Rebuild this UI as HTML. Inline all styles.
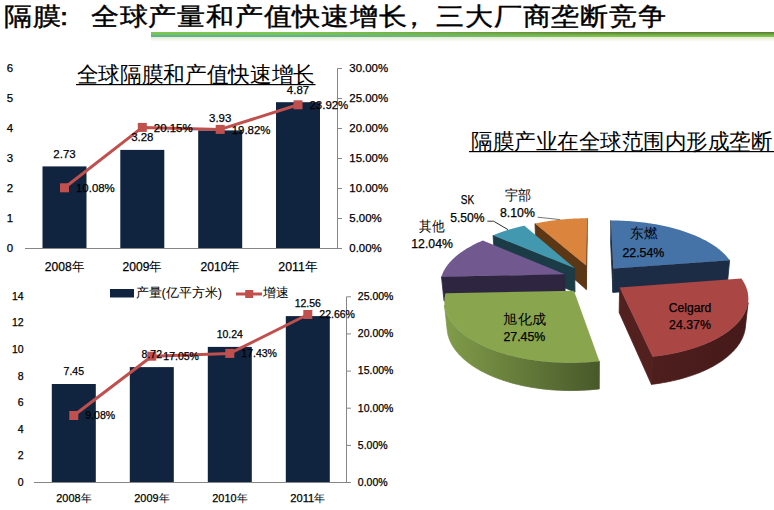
<!DOCTYPE html>
<html><head><meta charset="utf-8"><style>
html,body{margin:0;padding:0;background:#fff;width:774px;height:510px;overflow:hidden}
svg{display:block;font-family:"Liberation Sans",sans-serif}
.d{stroke:#000;stroke-width:0.25px}
</style></head><body>
<svg width="774" height="510" viewBox="0 0 774 510">
<defs>
<linearGradient id="gA" x1="0" y1="0" x2="0" y2="1"><stop offset="0" stop-color="#80c84c"/><stop offset="0.4" stop-color="#7cc35c"/><stop offset="1" stop-color="#4caea6"/></linearGradient>
<linearGradient id="gB" x1="0" y1="0" x2="0" y2="1"><stop offset="0" stop-color="#55782f"/><stop offset="0.6" stop-color="#78b244"/><stop offset="1" stop-color="#88ca55"/></linearGradient>
<linearGradient id="gM" gradientUnits="userSpaceOnUse" x1="300" y1="0" x2="620" y2="0"><stop offset="0" stop-color="#fff" stop-opacity="0"/><stop offset="1" stop-color="#fff" stop-opacity="1"/></linearGradient>
<mask id="mB"><rect x="0" y="0" width="774" height="60" fill="url(#gM)"/></mask>
<linearGradient id="gS" x1="0" y1="0" x2="0" y2="1"><stop offset="0" stop-color="#e6ead2"/><stop offset="1" stop-color="#ffffff"/></linearGradient>
</defs>
<rect x="151" y="37" width="623" height="5" fill="url(#gS)"/>
<rect x="151" y="32" width="623" height="5" fill="url(#gA)"/>
<rect x="151" y="32" width="623" height="5" fill="url(#gB)" mask="url(#mB)"/>
<rect x="42.5" y="166.4" width="44" height="82.1" fill="#11243f"/>
<rect x="120.3" y="149.9" width="44" height="98.6" fill="#11243f"/>
<rect x="198.2" y="130.4" width="44" height="118.1" fill="#11243f"/>
<rect x="276.0" y="102.2" width="44" height="146.3" fill="#11243f"/>
<path d="M25,248.5H342.0M337.5,68.5V248.5" stroke="#868686" stroke-width="1" fill="none"/>
<path d="M337.5,248.5H342.0M337.5,218.5H342.0M337.5,188.5H342.0M337.5,158.5H342.0M337.5,128.5H342.0M337.5,98.5H342.0M337.5,68.5H342.0" stroke="#868686" stroke-width="1"/>
<polyline points="64.5,187.8 142.3,127.4 220.2,129.4 298.0,104.8" fill="none" stroke="#c0504d" stroke-width="3" stroke-linejoin="round"/>
<rect x="60.0" y="183.3" width="9" height="9" fill="#c0504d"/>
<rect x="137.8" y="122.9" width="9" height="9" fill="#c0504d"/>
<rect x="215.7" y="124.9" width="9" height="9" fill="#c0504d"/>
<rect x="293.5" y="100.3" width="9" height="9" fill="#c0504d"/>
<rect x="51.8" y="384.0" width="44" height="98.5" fill="#11243f"/>
<rect x="129.8" y="367.1" width="44" height="115.4" fill="#11243f"/>
<rect x="207.8" y="346.9" width="44" height="135.6" fill="#11243f"/>
<rect x="285.8" y="316.1" width="44" height="166.4" fill="#11243f"/>
<path d="M34,482.5H351.0M346.5,296.8V482.5" stroke="#868686" stroke-width="1" fill="none"/>
<path d="M346.5,482.5H351.0M346.5,445.4H351.0M346.5,408.2H351.0M346.5,371.1H351.0M346.5,333.9H351.0M346.5,296.8H351.0" stroke="#868686" stroke-width="1"/>
<polyline points="73.8,415.5 151.8,356.2 229.8,353.4 307.8,314.5" fill="none" stroke="#c0504d" stroke-width="3" stroke-linejoin="round"/>
<rect x="69.3" y="411.0" width="9" height="9" fill="#c0504d"/>
<rect x="147.3" y="351.7" width="9" height="9" fill="#c0504d"/>
<rect x="225.3" y="348.9" width="9" height="9" fill="#c0504d"/>
<rect x="303.3" y="310.0" width="9" height="9" fill="#c0504d"/>
<rect x="76" y="84" width="239.5" height="1.2" fill="#000"/>
<rect x="469" y="151" width="305" height="1.2" fill="#000"/>
<rect x="110" y="289" width="24" height="8.5" fill="#11243f"/>
<path d="M236,294H262" stroke="#c0504d" stroke-width="3"/><rect x="245.2" y="290" width="8" height="8" fill="#c0504d"/>
<g><path d="M586.15,265.58L534.97,223.62L535.84,245.55L586.28,289.46Z" fill="#5C3716" stroke="#5C3716" stroke-width="0.8" stroke-linejoin="round"/>
<path d="M586.15,265.58L587.08,218.28L587.18,239.95L586.28,289.46Z" fill="#5C3716" stroke="#5C3716" stroke-width="0.8" stroke-linejoin="round"/>
<path d="M586.15,265.58L534.97,223.62L535.81,223.44L536.65,223.26L537.49,223.09L538.33,222.92L539.18,222.76L540.02,222.59L540.87,222.43L541.73,222.27L542.58,222.12L543.44,221.97L544.30,221.82L545.16,221.67L546.02,221.53L546.88,221.39L547.75,221.26L548.62,221.12L549.49,220.99L550.36,220.87L551.24,220.74L552.11,220.62L552.99,220.50L553.87,220.39L554.75,220.27L555.63,220.16L556.51,220.06L557.39,219.96L558.28,219.86L559.17,219.76L560.06,219.66L560.95,219.57L561.84,219.49L562.73,219.40L563.62,219.32L564.51,219.24L565.41,219.17L566.31,219.09L567.20,219.02L568.10,218.96L569.00,218.89L569.90,218.83L570.80,218.78L571.70,218.72L572.60,218.67L573.50,218.62L574.41,218.58L575.31,218.54L576.21,218.50L577.12,218.46L578.02,218.43L578.93,218.40L579.83,218.38L580.74,218.35L581.64,218.33L582.55,218.32L583.46,218.30L584.36,218.29L585.27,218.28L586.17,218.28L587.08,218.28Z" fill="#DB843D"/>
<path d="M574.70,268.18L493.05,235.33L494.59,257.82L575.01,292.18Z" fill="#1B3B47" stroke="#1B3B47" stroke-width="0.8" stroke-linejoin="round"/>
<path d="M574.70,268.18L493.05,235.33L493.54,235.13L494.02,234.93L494.51,234.73L495.00,234.53L495.49,234.33L495.98,234.14L496.48,233.94L496.97,233.75L497.47,233.56L497.97,233.37L498.47,233.18L498.98,232.99L499.48,232.81L499.99,232.62L500.50,232.44L501.01,232.26L501.53,232.07L502.04,231.89L502.56,231.72L503.08,231.54L503.60,231.36L504.12,231.19L504.64,231.02L505.17,230.84L505.69,230.67L506.22,230.50L506.75,230.34L507.28,230.17L507.81,230.00L508.35,229.84L508.89,229.68L509.42,229.52L509.96,229.36L510.50,229.20L511.04,229.04L511.59,228.89L512.13,228.73L512.68,228.58L513.23,228.43L513.78,228.28L514.33,228.13L514.88,227.98L515.43,227.83L515.99,227.69L516.55,227.54L517.10,227.40L517.66,227.26L518.22,227.12L518.78,226.98L519.35,226.85L519.91,226.71L520.48,226.58L521.04,226.44L521.61,226.31L522.18,226.18L522.75,226.06L523.32,225.93L523.89,225.80L524.46,225.68Z" fill="#4198AF"/>
<path d="M613.31,268.41L610.88,220.45L610.63,242.23L612.98,292.42Z" fill="#1C2C45" stroke="#1C2C45" stroke-width="0.8" stroke-linejoin="round"/>
<path d="M613.31,268.41L729.60,260.16L727.39,283.80L612.98,292.42Z" fill="#1C2C45" stroke="#1C2C45" stroke-width="0.8" stroke-linejoin="round"/>
<path d="M613.31,268.41L610.88,220.45L613.42,220.46L615.96,220.50L618.49,220.56L621.03,220.64L623.56,220.75L626.10,220.89L628.62,221.04L631.14,221.22L633.66,221.43L636.17,221.66L638.67,221.91L641.16,222.19L643.64,222.49L646.11,222.82L648.57,223.17L651.02,223.54L653.45,223.94L655.86,224.36L658.27,224.80L660.65,225.27L663.02,225.76L665.37,226.27L667.70,226.81L670.01,227.37L672.29,227.95L674.56,228.56L676.80,229.19L679.01,229.84L681.21,230.52L683.37,231.21L685.50,231.93L687.61,232.67L689.69,233.44L691.73,234.22L693.75,235.03L695.73,235.86L697.68,236.71L699.59,237.58L701.46,238.47L703.30,239.38L705.10,240.31L706.86,241.26L708.58,242.23L710.25,243.22L711.89,244.23L713.48,245.26L715.02,246.30L716.52,247.37L717.97,248.45L719.37,249.55L720.72,250.67L722.02,251.80L723.27,252.95L724.46,254.12L725.60,255.30L726.69,256.49L727.71,257.70L728.69,258.93L729.60,260.16Z" fill="#4572A7"/>
<path d="M564.80,274.35L441.48,276.64L444.06,301.00L565.29,298.62Z" fill="#2E2540" stroke="#2E2540" stroke-width="0.8" stroke-linejoin="round"/>
<path d="M564.80,274.35L441.48,276.64L441.71,275.91L441.96,275.18L442.22,274.45L442.51,273.73L442.81,273.01L443.14,272.29L443.48,271.58L443.84,270.87L444.22,270.16L444.62,269.46L445.03,268.76L445.46,268.06L445.91,267.36L446.38,266.67L446.87,265.99L447.37,265.30L447.89,264.62L448.43,263.95L448.98,263.28L449.55,262.61L450.14,261.95L450.74,261.29L451.36,260.63L451.99,259.98L452.64,259.34L453.31,258.70L453.99,258.06L454.69,257.43L455.40,256.80L456.12,256.18L456.86,255.56L457.62,254.95L458.39,254.34L459.17,253.74L459.97,253.14L460.78,252.55L461.61,251.97L462.44,251.39L463.29,250.81L464.16,250.24L465.04,249.67L465.92,249.11L466.83,248.56L467.74,248.01L468.67,247.47L469.61,246.93L470.56,246.40L471.52,245.88L472.49,245.36L473.48,244.84L474.47,244.34L475.48,243.83L476.50,243.34L477.53,242.85L478.57,242.37L479.61,241.89L480.67,241.42L481.74,240.95L482.82,240.49Z" fill="#71588F"/>
<path d="M619.61,287.55L652.63,356.77L651.43,384.35L619.16,312.39Z" fill="#52201F" stroke="#52201F" stroke-width="0.8" stroke-linejoin="round"/>
<linearGradient id="wg1" gradientUnits="userSpaceOnUse" x1="652.6" y1="0" x2="748.1" y2="0"><stop offset="0" stop-color="#4e1e1d"/><stop offset="1" stop-color="#451a19"/></linearGradient>
<path d="M748.07,302.47L747.95,303.27L747.81,304.07L747.65,304.88L747.47,305.68L747.26,306.48L747.03,307.29L746.78,308.09L746.51,308.89L746.21,309.70L745.89,310.50L745.55,311.30L745.18,312.10L744.79,312.89L744.38,313.69L743.95,314.49L743.49,315.28L743.01,316.07L742.50,316.86L741.97,317.65L741.42,318.43L740.85,319.21L740.25,319.99L739.63,320.77L738.98,321.54L738.31,322.31L737.62,323.08L736.91,323.84L736.17,324.60L735.41,325.35L734.62,326.10L733.81,326.85L732.98,327.59L732.13,328.33L731.25,329.06L730.35,329.79L729.43,330.51L728.48,331.22L727.51,331.94L726.52,332.64L725.51,333.34L724.47,334.03L723.41,334.72L722.33,335.40L721.23,336.07L720.11,336.74L718.96,337.40L717.80,338.05L716.61,338.69L715.40,339.33L714.17,339.96L712.92,340.58L711.64,341.19L710.35,341.80L709.04,342.40L707.71,342.98L706.36,343.56L704.98,344.13L703.59,344.69L702.18,345.25L700.76,345.79L699.31,346.32L697.85,346.84L696.36,347.36L694.86,347.86L693.34,348.35L691.81,348.84L690.26,349.31L688.69,349.77L687.11,350.22L685.51,350.66L683.89,351.09L682.26,351.51L680.62,351.91L678.96,352.31L677.29,352.69L675.60,353.06L673.90,353.42L672.19,353.77L670.47,354.10L668.73,354.43L666.98,354.74L665.22,355.04L663.45,355.32L661.67,355.60L659.88,355.86L658.08,356.11L656.27,356.34L654.45,356.56L652.63,356.77L651.43,384.35L653.22,384.13L655.00,383.90L656.77,383.66L658.54,383.40L660.29,383.13L662.04,382.85L663.77,382.55L665.50,382.24L667.21,381.92L668.91,381.58L670.61,381.23L672.28,380.87L673.95,380.50L675.60,380.12L677.24,379.72L678.87,379.31L680.48,378.89L682.08,378.46L683.67,378.01L685.23,377.56L686.79,377.09L688.33,376.61L689.85,376.12L691.35,375.62L692.84,375.11L694.32,374.59L695.77,374.05L697.21,373.51L698.63,372.96L700.03,372.40L701.42,371.82L702.78,371.24L704.13,370.65L705.46,370.05L706.76,369.44L708.05,368.82L709.32,368.19L710.57,367.56L711.80,366.91L713.01,366.26L714.20,365.60L715.37,364.93L716.52,364.25L717.64,363.56L718.75,362.87L719.83,362.17L720.90,361.47L721.94,360.76L722.96,360.04L723.96,359.31L724.93,358.58L725.89,357.84L726.82,357.10L727.73,356.35L728.61,355.59L729.48,354.83L730.32,354.06L731.14,353.29L731.94,352.52L732.71,351.74L733.46,350.95L734.19,350.17L734.90,349.37L735.58,348.58L736.24,347.78L736.88,346.97L737.50,346.17L738.09,345.36L738.66,344.54L739.20,343.73L739.73,342.91L740.23,342.09L740.70,341.27L741.16,340.44L741.59,339.61L742.00,338.78L742.39,337.95L742.75,337.12L743.09,336.29L743.41,335.46L743.71,334.62L743.98,333.79L744.23,332.95L744.46,332.11L744.67,331.28L744.86,330.44L745.02,329.60L745.16,328.77L745.28,327.93Z" fill="url(#wg1)" stroke="url(#wg1)" stroke-width="0.8" stroke-linejoin="round"/>
<path d="M619.61,287.55L741.38,278.48L742.39,279.96L743.32,281.47L744.18,282.98L744.96,284.52L745.67,286.06L746.29,287.62L746.83,289.19L747.29,290.77L747.67,292.37L747.96,293.97L748.17,295.58L748.29,297.19L748.32,298.81L748.27,300.44L748.12,302.07L747.88,303.71L747.55,305.34L747.13,306.97L746.61,308.61L746.00,310.24L745.29,311.87L744.49,313.49L743.59,315.10L742.60,316.71L741.51,318.31L740.32,319.90L739.04,321.48L737.66,323.04L736.18,324.58L734.61,326.12L732.94,327.63L731.17,329.12L729.32,330.59L727.36,332.04L725.32,333.47L723.18,334.87L720.95,336.24L718.63,337.59L716.22,338.90L713.72,340.18L711.14,341.43L708.48,342.65L705.73,343.83L702.90,344.97L700.00,346.07L697.02,347.13L693.96,348.15L690.84,349.13L687.65,350.07L684.39,350.96L681.07,351.80L677.69,352.60L674.25,353.35L670.76,354.05L667.22,354.70L663.63,355.29L660.00,355.84L656.33,356.33L652.63,356.77Z" fill="#AA4643"/>
<linearGradient id="wg2" gradientUnits="userSpaceOnUse" x1="444.5" y1="0" x2="599.4" y2="0"><stop offset="0" stop-color="#819c4a"/><stop offset="1" stop-color="#48592a"/></linearGradient>
<path d="M599.39,361.17L597.28,361.40L595.16,361.60L593.03,361.80L590.90,361.97L588.77,362.13L586.62,362.27L584.48,362.39L582.33,362.49L580.17,362.58L578.02,362.65L575.86,362.70L573.71,362.74L571.55,362.76L569.39,362.76L567.23,362.74L565.08,362.70L562.93,362.65L560.78,362.58L558.64,362.49L556.50,362.39L554.36,362.27L552.23,362.13L550.11,361.97L548.00,361.80L545.89,361.61L543.79,361.40L541.70,361.18L539.62,360.93L537.55,360.68L535.49,360.40L533.45,360.11L531.41,359.80L529.39,359.48L527.39,359.14L525.39,358.78L523.41,358.41L521.45,358.02L519.50,357.62L517.57,357.20L515.66,356.77L513.76,356.32L511.88,355.86L510.02,355.38L508.18,354.89L506.36,354.38L504.56,353.86L502.78,353.33L501.02,352.78L499.28,352.22L497.56,351.64L495.87,351.05L494.20,350.45L492.55,349.84L490.93,349.21L489.33,348.58L487.75,347.93L486.20,347.26L484.67,346.59L483.17,345.91L481.69,345.21L480.24,344.51L478.82,343.79L477.42,343.07L476.05,342.33L474.71,341.59L473.40,340.83L472.11,340.07L470.85,339.30L469.62,338.51L468.41,337.73L467.24,336.93L466.09,336.12L464.97,335.31L463.88,334.49L462.82,333.66L461.79,332.83L460.79,331.99L459.82,331.14L458.88,330.29L457.97,329.43L457.08,328.57L456.23,327.70L455.40,326.82L454.61,325.95L453.85,325.06L453.11,324.18L452.41,323.29L451.73,322.39L451.09,321.49L450.47,320.59L449.89,319.69L449.33,318.78L448.81,317.87L448.31,316.96L447.85,316.05L447.41,315.13L447.00,314.22L446.63,313.30L446.28,312.38L445.96,311.46L445.67,310.54L445.41,309.62L445.18,308.70L444.97,307.78L444.80,306.86L444.65,305.94L444.53,305.02L447.24,330.59L447.36,331.55L447.51,332.51L447.69,333.46L447.89,334.42L448.13,335.38L448.39,336.34L448.68,337.29L449.00,338.25L449.35,339.21L449.72,340.16L450.13,341.11L450.56,342.07L451.03,343.02L451.52,343.96L452.04,344.91L452.59,345.85L453.17,346.79L453.78,347.73L454.41,348.66L455.08,349.59L455.78,350.52L456.50,351.44L457.26,352.36L458.04,353.27L458.86,354.18L459.70,355.08L460.57,355.98L461.47,356.87L462.40,357.75L463.36,358.63L464.34,359.51L465.36,360.37L466.40,361.23L467.47,362.08L468.57,362.93L469.70,363.76L470.86,364.59L472.04,365.41L473.26,366.22L474.49,367.02L475.76,367.81L477.05,368.60L478.37,369.37L479.72,370.13L481.09,370.89L482.49,371.63L483.92,372.36L485.37,373.08L486.84,373.79L488.34,374.49L489.86,375.18L491.41,375.85L492.98,376.51L494.58,377.16L496.19,377.80L497.83,378.42L499.50,379.03L501.18,379.62L502.89,380.21L504.61,380.78L506.36,381.33L508.13,381.87L509.91,382.39L511.72,382.91L513.54,383.40L515.38,383.88L517.24,384.35L519.12,384.79L521.01,385.23L522.92,385.65L524.85,386.05L526.79,386.43L528.74,386.80L530.71,387.15L532.69,387.49L534.68,387.81L536.69,388.11L538.70,388.39L540.73,388.66L542.77,388.91L544.81,389.14L546.87,389.36L548.93,389.56L551.01,389.74L553.08,389.90L555.17,390.04L557.26,390.17L559.36,390.28L561.46,390.37L563.56,390.44L565.67,390.49L567.78,390.53L569.89,390.55L572.00,390.55L574.12,390.53L576.23,390.49L578.34,390.44L580.45,390.37L582.56,390.28L584.67,390.17L586.77,390.04L588.87,389.90L590.96,389.73L593.05,389.55L595.13,389.36L597.20,389.14L599.27,388.91Z" fill="url(#wg2)" stroke="url(#wg2)" stroke-width="0.8" stroke-linejoin="round"/>
<path d="M573.92,290.76L599.39,361.17L595.09,361.61L590.76,361.98L586.41,362.28L582.04,362.51L577.65,362.66L573.27,362.74L568.88,362.75L564.50,362.69L560.13,362.56L555.77,362.35L551.44,362.07L547.14,361.72L542.87,361.30L538.64,360.81L534.45,360.26L530.32,359.63L526.24,358.94L522.21,358.18L518.26,357.35L514.37,356.47L510.56,355.52L506.82,354.51L503.17,353.44L499.60,352.32L496.13,351.14L492.74,349.91L489.46,348.63L486.28,347.30L483.19,345.92L480.22,344.50L477.35,343.03L474.60,341.52L471.96,339.98L469.43,338.39L467.02,336.78L464.73,335.13L462.56,333.45L460.51,331.74L458.58,330.01L456.77,328.26L455.09,326.48L453.53,324.69L452.10,322.88L450.78,321.05L449.59,319.21L448.53,317.36L447.59,315.51L446.76,313.64L446.06,311.77L445.48,309.90L445.02,308.03L444.68,306.16L444.46,304.29L444.35,302.43L444.35,300.57L444.47,298.72L444.70,296.88L445.04,295.05L445.49,293.23Z" fill="#89A54E"/></g>
<path d="M487.3,221.2H493.6L508.1,229.7" stroke="#333" stroke-width="1" fill="none"/><path d="M537.6,217.2L560.2,219.6" stroke="#777" stroke-width="1" fill="none"/>
<text x="4.03 29.72 44.88 81.12 106.81 132.51 158.21 183.90 209.60 235.29 260.99 286.69 312.38 338.08 357.08 389.47 415.17 440.87 466.56 492.26 517.96 543.65 569.35" y="25.5" font-size="25.5" transform="scale(1.12,1)" stroke="#000" stroke-width="0.4">隔膜：全球产量和产值快速增长，三大厂商垄断竞争</text>
<text x="13.0" y="252.1" font-size="11.44" text-anchor="end" fill="#000" class="d">0</text>
<text x="13.0" y="222.1" font-size="11.44" text-anchor="end" fill="#000" class="d">1</text>
<text x="13.0" y="192.1" font-size="11.44" text-anchor="end" fill="#000" class="d">2</text>
<text x="13.0" y="162.1" font-size="11.44" text-anchor="end" fill="#000" class="d">3</text>
<text x="13.0" y="132.1" font-size="11.44" text-anchor="end" fill="#000" class="d">4</text>
<text x="13.0" y="102.1" font-size="11.44" text-anchor="end" fill="#000" class="d">5</text>
<text x="13.0" y="72.1" font-size="11.44" text-anchor="end" fill="#000" class="d">6</text>
<text x="349.3" y="252.1" font-size="11.44" text-anchor="start" fill="#000" textLength="32.4" lengthAdjust="spacingAndGlyphs" class="d">0.00%</text>
<text x="349.3" y="222.1" font-size="11.44" text-anchor="start" fill="#000" textLength="32.4" lengthAdjust="spacingAndGlyphs" class="d">5.00%</text>
<text x="349.3" y="192.1" font-size="11.44" text-anchor="start" fill="#000" textLength="38.8" lengthAdjust="spacingAndGlyphs" class="d">10.00%</text>
<text x="349.3" y="162.1" font-size="11.44" text-anchor="start" fill="#000" textLength="38.8" lengthAdjust="spacingAndGlyphs" class="d">15.00%</text>
<text x="349.3" y="132.1" font-size="11.44" text-anchor="start" fill="#000" textLength="38.8" lengthAdjust="spacingAndGlyphs" class="d">20.00%</text>
<text x="349.3" y="102.1" font-size="11.44" text-anchor="start" fill="#000" textLength="38.8" lengthAdjust="spacingAndGlyphs" class="d">25.00%</text>
<text x="349.3" y="72.1" font-size="11.44" text-anchor="start" fill="#000" textLength="38.8" lengthAdjust="spacingAndGlyphs" class="d">30.00%</text>
<text x="44.8" y="270.8" font-size="12.5" text-anchor="start" fill="#000" textLength="39.4" lengthAdjust="spacingAndGlyphs"><tspan class="d">2008</tspan>年</text>
<text x="122.6" y="270.8" font-size="12.5" text-anchor="start" fill="#000" textLength="39.4" lengthAdjust="spacingAndGlyphs"><tspan class="d">2009</tspan>年</text>
<text x="200.5" y="270.8" font-size="12.5" text-anchor="start" fill="#000" textLength="39.4" lengthAdjust="spacingAndGlyphs"><tspan class="d">2010</tspan>年</text>
<text x="278.3" y="270.8" font-size="12.5" text-anchor="start" fill="#000" textLength="39.4" lengthAdjust="spacingAndGlyphs"><tspan class="d">2011</tspan>年</text>
<text x="64.5" y="157.8" font-size="11.44" text-anchor="middle" fill="#000" class="d">2.73</text>
<text x="142.3" y="141.3" font-size="11.44" text-anchor="middle" fill="#000" class="d">3.28</text>
<text x="220.2" y="121.8" font-size="11.44" text-anchor="middle" fill="#000" class="d">3.93</text>
<text x="298.0" y="93.6" font-size="11.44" text-anchor="middle" fill="#000" class="d">4.87</text>
<text x="76.0" y="192.2" font-size="11.44" text-anchor="start" fill="#000" textLength="38.8" lengthAdjust="spacingAndGlyphs" class="d">10.08%</text>
<text x="153.8" y="131.8" font-size="11.44" text-anchor="start" fill="#000" textLength="38.8" lengthAdjust="spacingAndGlyphs" class="d">20.15%</text>
<text x="231.7" y="133.8" font-size="11.44" text-anchor="start" fill="#000" textLength="38.8" lengthAdjust="spacingAndGlyphs" class="d">19.82%</text>
<text x="309.5" y="109.2" font-size="11.44" text-anchor="start" fill="#000" textLength="38.8" lengthAdjust="spacingAndGlyphs" class="d">23.92%</text>
<text x="23.7" y="485.8" font-size="10.5" text-anchor="end" fill="#000" class="d">0</text>
<text x="23.7" y="459.2" font-size="10.5" text-anchor="end" fill="#000" class="d">2</text>
<text x="23.7" y="432.6" font-size="10.5" text-anchor="end" fill="#000" class="d">4</text>
<text x="23.7" y="406.1" font-size="10.5" text-anchor="end" fill="#000" class="d">6</text>
<text x="23.7" y="379.5" font-size="10.5" text-anchor="end" fill="#000" class="d">8</text>
<text x="23.7" y="352.9" font-size="10.5" text-anchor="end" fill="#000" class="d">10</text>
<text x="23.7" y="326.3" font-size="10.5" text-anchor="end" fill="#000" class="d">12</text>
<text x="23.7" y="299.7" font-size="10.5" text-anchor="end" fill="#000" class="d">14</text>
<text x="357.8" y="485.8" font-size="10.5" text-anchor="start" fill="#000" textLength="29.8" lengthAdjust="spacingAndGlyphs" class="d">0.00%</text>
<text x="357.8" y="448.7" font-size="10.5" text-anchor="start" fill="#000" textLength="29.8" lengthAdjust="spacingAndGlyphs" class="d">5.00%</text>
<text x="357.8" y="411.5" font-size="10.5" text-anchor="start" fill="#000" textLength="35.6" lengthAdjust="spacingAndGlyphs" class="d">10.00%</text>
<text x="357.8" y="374.4" font-size="10.5" text-anchor="start" fill="#000" textLength="35.6" lengthAdjust="spacingAndGlyphs" class="d">15.00%</text>
<text x="357.8" y="337.2" font-size="10.5" text-anchor="start" fill="#000" textLength="35.6" lengthAdjust="spacingAndGlyphs" class="d">20.00%</text>
<text x="357.8" y="300.1" font-size="10.5" text-anchor="start" fill="#000" textLength="35.6" lengthAdjust="spacingAndGlyphs" class="d">25.00%</text>
<text x="56.3" y="502.1" font-size="11.104060913705585" text-anchor="start" fill="#000" textLength="35" lengthAdjust="spacingAndGlyphs"><tspan class="d">2008</tspan>年</text>
<text x="134.3" y="502.1" font-size="11.104060913705585" text-anchor="start" fill="#000" textLength="35" lengthAdjust="spacingAndGlyphs"><tspan class="d">2009</tspan>年</text>
<text x="212.3" y="502.1" font-size="11.104060913705585" text-anchor="start" fill="#000" textLength="35" lengthAdjust="spacingAndGlyphs"><tspan class="d">2010</tspan>年</text>
<text x="290.3" y="502.1" font-size="11.104060913705585" text-anchor="start" fill="#000" textLength="35" lengthAdjust="spacingAndGlyphs"><tspan class="d">2011</tspan>年</text>
<text x="73.8" y="375.1" font-size="10.5" text-anchor="middle" fill="#000" class="d">7.45</text>
<text x="151.8" y="358.2" font-size="10.5" text-anchor="middle" fill="#000" class="d">8.72</text>
<text x="229.8" y="338.0" font-size="10.5" text-anchor="middle" fill="#000" class="d">10.24</text>
<text x="307.8" y="307.2" font-size="10.5" text-anchor="middle" fill="#000" class="d">12.56</text>
<text x="85.3" y="418.8" font-size="10.5" text-anchor="start" fill="#000" textLength="29.8" lengthAdjust="spacingAndGlyphs" class="d">9.08%</text>
<text x="163.3" y="359.5" font-size="10.5" text-anchor="start" fill="#000" textLength="35.6" lengthAdjust="spacingAndGlyphs" class="d">17.05%</text>
<text x="241.3" y="356.7" font-size="10.5" text-anchor="start" fill="#000" textLength="35.6" lengthAdjust="spacingAndGlyphs" class="d">17.43%</text>
<text x="319.3" y="317.8" font-size="10.5" text-anchor="start" fill="#000" textLength="35.6" lengthAdjust="spacingAndGlyphs" class="d">22.66%</text>
<text x="76.5" y="81.7" font-size="21.5" text-anchor="start" fill="#000" textLength="238.5" lengthAdjust="spacingAndGlyphs">全球隔膜和产值快速增长</text>
<text x="471.0" y="148.7" font-size="21.5" text-anchor="start" fill="#000" textLength="301.5" lengthAdjust="spacingAndGlyphs">隔膜产业在全球范围内形成垄断</text>
<text x="135.7" y="296.9" font-size="13" text-anchor="start" fill="#000" textLength="86.3" lengthAdjust="spacingAndGlyphs">产量(亿平方米)</text>
<text x="262.8" y="296.9" font-size="13" text-anchor="start" fill="#000" textLength="25.8" lengthAdjust="spacingAndGlyphs">增速</text>
<text x="630.2" y="238.3" font-size="13.5" text-anchor="start" fill="#000" textLength="27.3" lengthAdjust="spacingAndGlyphs">东燃</text>
<text x="622.4" y="257.1" font-size="12.2" text-anchor="start" fill="#000" textLength="41.9" lengthAdjust="spacingAndGlyphs" class="d">22.54%</text>
<text x="668.8" y="311.9" font-size="12.5" text-anchor="start" fill="#000" textLength="42.4" lengthAdjust="spacingAndGlyphs" class="d">Celgard</text>
<text x="669.1" y="329.1" font-size="12.2" text-anchor="start" fill="#000" textLength="41.8" lengthAdjust="spacingAndGlyphs" class="d">24.37%</text>
<text x="503.4" y="323.7" font-size="13.5" text-anchor="start" fill="#000" textLength="42.4" lengthAdjust="spacingAndGlyphs">旭化成</text>
<text x="503.4" y="341.1" font-size="12.2" text-anchor="start" fill="#000" textLength="41.9" lengthAdjust="spacingAndGlyphs" class="d">27.45%</text>
<text x="419.1" y="231.2" font-size="13.5" text-anchor="start" fill="#000" textLength="25.3" lengthAdjust="spacingAndGlyphs">其他</text>
<text x="411.3" y="248.1" font-size="12.2" text-anchor="start" fill="#000" textLength="41.6" lengthAdjust="spacingAndGlyphs" class="d">12.04%</text>
<text x="460.7" y="204.4" font-size="12.5" text-anchor="start" fill="#000" textLength="13.4" lengthAdjust="spacingAndGlyphs" class="d">SK</text>
<text x="450.2" y="221.8" font-size="12.2" text-anchor="start" fill="#000" textLength="34.4" lengthAdjust="spacingAndGlyphs" class="d">5.50%</text>
<text x="504.8" y="199.9" font-size="13.5" text-anchor="start" fill="#000" textLength="26.2" lengthAdjust="spacingAndGlyphs">宇部</text>
<text x="500.0" y="216.8" font-size="12.2" text-anchor="start" fill="#000" textLength="34.8" lengthAdjust="spacingAndGlyphs" class="d">8.10%</text>
</svg></body></html>
